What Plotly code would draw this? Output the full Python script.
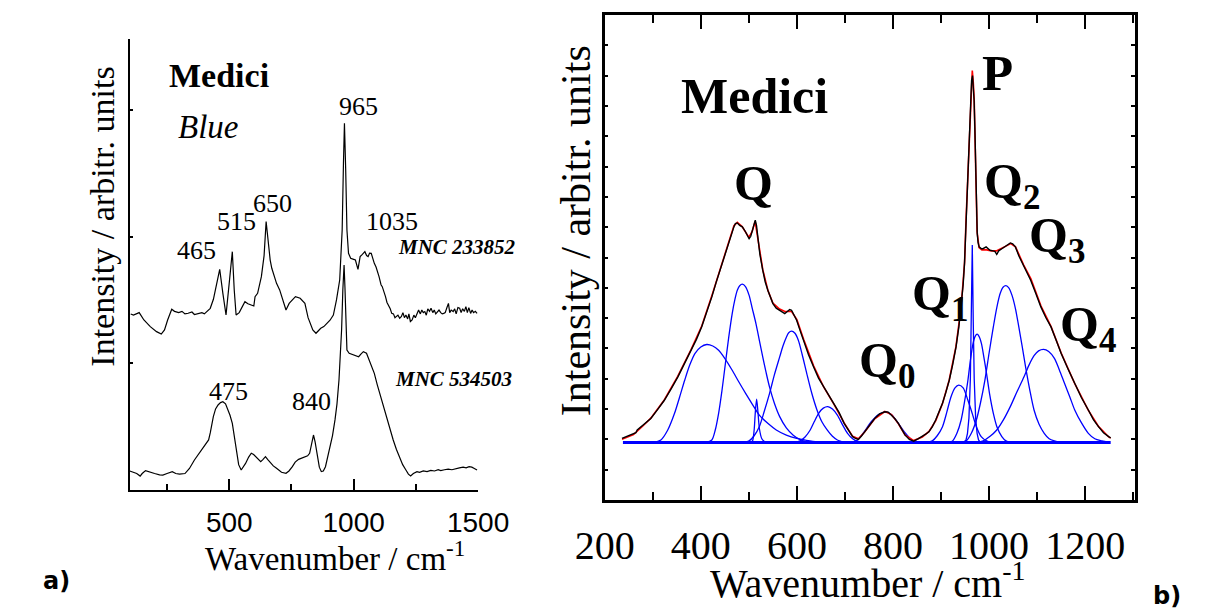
import plotly.graph_objects as go

W, H = 1217, 611

# ---------------- Panel a) data ----------------
top_wn = [103.8, 115, 138, 157, 182.6, 207.8, 226.8, 239.7, 252.3, 268.8, 280, 296.7, 310, 322, 334.8, 350, 360, 372.9,
          390, 400, 411, 423.6, 436.3, 450, 461.6, 474.3, 487, 499.7, 512.3, 520, 527.5, 540, 550.4, 563, 575, 588.5,
          598.7, 603.7, 613.9, 629.1, 640, 648.2, 656, 664.5, 671, 680, 690, 702.6, 715.5, 728, 740.7, 752, 766, 785,
          804, 816.8, 835.8, 848.6, 858, 867.7, 880, 893, 905, 918.4, 931, 943.9, 950, 953.8, 959, 963, 968, 973,
          979.3, 988, 1000, 1007, 1017.4, 1026, 1035, 1045, 1052, 1058, 1064, 1070.7, 1083, 1090, 1102, 1110, 1115,
          1122, 1128, 1134, 1140, 1147, 1153, 1160, 1166, 1172, 1178, 1185, 1192, 1198, 1204, 1210, 1217, 1222, 1228,
          1235, 1242, 1248, 1255, 1261, 1268, 1274, 1280, 1286, 1292, 1298, 1305, 1311, 1318, 1324, 1330, 1337, 1343,
          1350, 1356, 1362, 1368, 1375, 1381, 1386, 1392, 1400, 1406, 1412, 1419, 1426, 1432, 1438, 1445, 1451, 1457,
          1463, 1470, 1476, 1482, 1489, 1496]
top_int = [1.389, 1.38, 1.400, 1.342, 1.289, 1.250, 1.231, 1.263, 1.342, 1.426, 1.41, 1.40, 1.41, 1.39, 1.395, 1.405,
           1.385, 1.389, 1.40, 1.39, 1.407, 1.434, 1.505, 1.62, 1.742, 1.552, 1.381, 1.631, 1.881, 1.579, 1.381, 1.40,
           1.442, 1.486, 1.47, 1.460, 1.452, 1.526, 1.552, 1.684, 1.85, 2.118, 1.95, 1.815, 1.750, 1.70, 1.631, 1.579,
           1.500, 1.421, 1.473, 1.50, 1.526, 1.513, 1.473, 1.36, 1.263, 1.237, 1.26, 1.276, 1.29, 1.316, 1.34, 1.381,
           1.50, 1.657, 1.85, 2.052, 2.578, 2.894, 2.526, 2.052, 1.868, 1.829, 1.82, 1.815, 1.742, 1.842, 1.86, 1.881,
           1.85, 1.842, 1.87, 1.868, 1.789, 1.76, 1.684, 1.62, 1.605, 1.55, 1.526, 1.48, 1.460, 1.43, 1.394, 1.39,
           1.36, 1.368, 1.38, 1.355, 1.37, 1.40, 1.36, 1.381, 1.35, 1.39, 1.33, 1.342, 1.38, 1.36, 1.40, 1.421, 1.39,
           1.42, 1.40, 1.408, 1.38, 1.43, 1.41, 1.434, 1.40, 1.42, 1.39, 1.408, 1.42, 1.40, 1.39, 1.394, 1.40, 1.44,
           1.473, 1.40, 1.42, 1.408, 1.43, 1.39, 1.44, 1.434, 1.40, 1.43, 1.41, 1.447, 1.40, 1.44, 1.394, 1.42, 1.40,
           1.41, 1.394]

bot_wn = [100, 115, 128, 141.9, 150, 163.5, 180, 200, 220, 233, 250, 271, 285, 300, 322, 340, 360, 380, 398, 417,
          423.6, 436, 445, 455, 465, 474.3, 485, 493, 503, 512.3, 525, 537.8, 548, 556, 565.5, 578, 588.5, 598,
          607.5, 617, 626.5, 635, 645.5, 655, 664.5, 677, 690, 710, 728, 740, 753.6, 765, 778.7, 790, 804, 815,
          823, 830, 838.5, 845, 855, 862, 870, 878, 886.7, 895, 905.9, 915, 925, 933, 941, 947, 951.5, 956.5, 959,
          961.5, 965, 969, 973, 982, 995, 1007, 1020, 1030, 1039, 1051.6, 1064, 1073, 1083, 1095, 1108.7, 1121,
          1134, 1147, 1159, 1172, 1185, 1197, 1210, 1220, 1229, 1240, 1254.6, 1265, 1280, 1295, 1310, 1325, 1340,
          1350, 1365, 1380, 1395, 1410, 1425, 1440, 1452, 1464, 1475, 1485, 1496]
bot_int = [0.150, 0.14, 0.13, 0.110, 0.13, 0.153, 0.14, 0.13, 0.12, 0.118, 0.13, 0.145, 0.13, 0.125, 0.13, 0.17,
           0.237, 0.29, 0.342, 0.395, 0.45, 0.579, 0.64, 0.671, 0.69, 0.697, 0.68, 0.645, 0.59, 0.526, 0.342, 0.20,
           0.158, 0.18, 0.210, 0.26, 0.290, 0.28, 0.263, 0.24, 0.224, 0.24, 0.263, 0.24, 0.216, 0.19, 0.171, 0.14,
           0.132, 0.15, 0.184, 0.22, 0.242, 0.25, 0.263, 0.27, 0.290, 0.36, 0.434, 0.38, 0.263, 0.18, 0.145, 0.15,
           0.184, 0.25, 0.342, 0.43, 0.553, 0.68, 0.868, 1.05, 1.263, 1.579, 1.70, 1.776, 1.60, 1.394, 1.105, 1.079,
           1.07, 1.066, 1.052, 1.075, 1.092, 1.079, 1.013, 0.97, 0.921, 0.83, 0.737, 0.645, 0.553, 0.47, 0.395, 0.32,
           0.250, 0.20, 0.158, 0.125, 0.110, 0.13, 0.145, 0.14, 0.15, 0.145, 0.155, 0.15, 0.16, 0.153, 0.16, 0.165,
           0.16, 0.17, 0.175, 0.18, 0.175, 0.184, 0.18, 0.17, 0.158]

a_xticks = [500, 1000, 1500]
a_xminor = [250, 750, 1250]
a_yticks = [1, 2, 3]

# ---------------- Panel b) data ----------------
exp_wn = [236, 250, 260.7, 265, 267.7, 280, 296, 310, 324.2, 338, 352.4, 366, 380.7, 391, 401.8, 412, 423, 432, 440.7,
          450, 458.3, 464, 468.9, 472, 476, 481, 486.5, 493, 500.6, 504, 507.7, 511, 513.4, 516, 518.3, 523, 528.9,
          534, 539.5, 545, 550.1, 557, 564.2, 569, 574.8, 580, 585, 588.9, 594, 599.5, 606, 613.6, 624, 634.8, 645,
          655.9, 666, 677.1, 688, 698.3, 708, 716, 722, 728, 734, 740.6, 750, 761.8, 772, 783, 790, 797.1, 804,
          811.2, 818, 825.3, 834, 843, 852, 860.6, 868, 874.7, 882, 888.8, 896, 903, 910, 917.1, 924, 931.2, 937,
          941.8, 946, 948.8, 952.4, 956, 959.5, 962, 963.5, 965.5, 967, 968.8, 970.5, 972.1, 974, 975.3, 977, 979.3,
          984.1, 987.2, 993.8, 997, 1001.8, 1008, 1012, 1015.9, 1020, 1026.5, 1032, 1038, 1044.1, 1049, 1054.7, 1062,
          1072.4, 1080, 1086.5, 1097, 1107.7, 1118, 1128.8, 1140, 1150, 1164, 1178.2, 1192, 1206.5, 1217, 1227.6,
          1238, 1248.8, 1253]
exp_int = [2.03, 2.12, 2.20, 2.22, 2.31, 2.47, 2.69, 2.98, 3.29, 3.66, 4.06, 4.50, 4.94, 5.30, 5.71, 6.18, 6.70, 7.18,
           7.63, 8.08, 8.51, 8.82, 9.01, 9.12, 9.14, 9.06, 9.01, 8.85, 8.62, 8.70, 8.90, 9.15, 9.23, 9.05, 8.68, 8.10,
           7.58, 7.20, 6.92, 6.68, 6.48, 6.33, 6.26, 6.20, 6.15, 6.22, 6.28, 6.26, 6.12, 5.93, 5.62, 5.27, 4.80, 4.39,
           4.02, 3.73, 3.45, 3.19, 2.88, 2.53, 2.28, 2.09, 2.03, 2.00, 2.10, 2.25, 2.45, 2.69, 2.84, 2.91, 2.90, 2.80,
           2.68, 2.53, 2.33, 2.14, 2.00, 1.94, 2.02, 2.09, 2.17, 2.25, 2.42, 2.64, 2.90, 3.19, 3.55, 3.95, 4.45, 5.05,
           5.70, 6.37, 7.10, 7.80, 9.23, 10.8, 12.08, 13.2, 13.84, 14.0, 13.7, 13.18, 12.2, 10.98, 9.8, 8.79, 8.50,
           8.35, 8.29, 8.29, 8.35, 8.30, 8.24, 8.22, 8.20, 8.10, 8.22, 8.29, 8.35, 8.42, 8.48, 8.45, 8.35, 8.05, 7.69,
           7.45, 7.25, 6.82, 6.37, 6.02, 5.71, 5.25, 4.83, 4.33, 3.84, 3.38, 2.97, 2.65, 2.42, 2.22, 2.09, 2.05]

fit_wn = [236, 260, 280, 296, 324, 352, 380, 402, 423, 441, 458, 469, 476, 486, 500, 507, 513, 518, 529, 540, 550, 564,
          575, 589, 600, 614, 635, 656, 677, 698, 716, 728, 741, 762, 783, 797, 811, 825, 843, 861, 875, 889, 903, 917,
          931, 942, 949, 952, 956, 960, 963, 965, 967, 969, 972, 975, 979, 985, 995, 1005, 1016, 1027, 1038, 1045,
          1055, 1072, 1087, 1108, 1129, 1150, 1178, 1206, 1228, 1249, 1253]
fit_int = [2.00, 2.16, 2.45, 2.70, 3.30, 4.08, 4.97, 5.74, 6.74, 7.66, 8.55, 9.05, 9.16, 9.02, 8.66, 8.86, 9.20, 8.72,
           7.60, 6.90, 6.50, 6.30, 6.22, 6.22, 5.95, 5.30, 4.42, 3.72, 3.16, 2.55, 2.10, 2.02, 2.24, 2.68, 2.92, 2.82,
           2.52, 2.15, 1.96, 2.08, 2.26, 2.62, 3.18, 3.96, 5.06, 6.40, 7.85, 9.25, 10.9, 12.3, 13.9, 14.17, 13.8, 13.2,
           11.0, 8.85, 8.33, 8.25, 8.25, 8.22, 8.22, 8.30, 8.40, 8.46, 8.35, 7.75, 7.30, 6.40, 5.72, 4.85, 3.85, 2.97,
           2.42, 2.08, 2.04]

c1_wn = [300, 317, 331, 345.4, 356, 366.5, 377, 387.7, 400, 412.4, 425, 437.1, 451, 465.4, 479, 493.6, 508, 521.8, 540,
         557.1, 578, 599.5, 620, 641.8, 665]
c1_int = [1.90, 1.98, 2.30, 2.86, 3.40, 3.95, 4.45, 4.83, 5.05, 5.13, 5.08, 4.94, 4.65, 4.28, 3.90, 3.51, 3.14, 2.80,
          2.52, 2.31, 2.14, 2.03, 1.97, 1.92, 1.90]
c2_wn = [410, 423, 430, 437.1, 444, 451.2, 458, 465.4, 471, 476, 481, 486.5, 493, 500.6, 507, 514.8, 522, 528.9, 536,
         543, 553, 564.2, 578, 592.4, 606, 620.6, 635]
c2_int = [1.90, 1.98, 2.30, 2.86, 3.60, 4.50, 5.35, 6.15, 6.62, 6.92, 7.07, 7.12, 7.04, 6.75, 6.33, 5.82, 5.26, 4.72,
          4.20, 3.73, 3.20, 2.75, 2.38, 2.14, 2.00, 1.92, 1.90]
c3_wn = [504, 507.7, 511, 513.5, 516.2, 519, 522, 527, 532.4, 536]
c3_int = [1.90, 1.95, 2.30, 2.90, 3.33, 2.90, 2.35, 2.02, 1.93, 1.90]
c4_wn = [490, 500.6, 511, 521.8, 532, 543, 553, 564.2, 571, 578.3, 583, 588.9, 596, 603, 611, 620.6, 631, 641.8, 652,
         663, 674, 684.2, 700]
c4_int = [1.90, 1.95, 2.12, 2.42, 2.92, 3.51, 4.12, 4.72, 5.08, 5.38, 5.52, 5.57, 5.50, 5.27, 4.80, 4.17, 3.52, 2.97,
          2.58, 2.31, 2.10, 1.98, 1.90]
c5_wn = [595, 606.5, 617, 627.7, 636, 645.3, 655, 664.4, 674, 684.2, 695, 705.4, 716, 726.5, 740]
c5_int = [1.90, 1.95, 2.08, 2.31, 2.58, 2.86, 3.03, 3.08, 3.00, 2.80, 2.48, 2.20, 2.02, 1.93, 1.90]
c6_wn = [715, 726.5, 740, 754.7, 770, 785.1, 798, 811.2, 825, 839.4, 852]
c6_int = [1.90, 1.98, 2.25, 2.58, 2.82, 2.91, 2.80, 2.53, 2.22, 1.98, 1.90]
c7_wn = [870, 881.8, 892, 903, 912, 920.6, 929, 936.8, 946, 955.9, 965, 973.5, 984, 994.7, 1005]
c7_int = [1.90, 1.95, 2.12, 2.42, 2.90, 3.40, 3.70, 3.79, 3.70, 3.29, 2.85, 2.42, 2.08, 1.95, 1.90]
c8_wn = [948, 952, 955, 958, 961, 963, 965, 967, 969, 972, 975, 978, 982]
c8_int = [1.90, 1.98, 2.20, 2.70, 4.00, 5.90, 8.41, 5.90, 4.00, 2.70, 2.20, 1.98, 1.90]
c9_wn = [915, 924, 933, 941.8, 949, 955.9, 961, 966.5, 971, 975, 979, 984.1, 989, 994.7, 1001, 1008.8, 1017, 1026.5,
         1035, 1045]
c9_int = [1.90, 1.95, 2.20, 2.64, 3.25, 3.95, 4.60, 5.16, 5.40, 5.47, 5.40, 5.16, 4.72, 4.17, 3.50, 2.86, 2.38, 2.09,
          1.95, 1.90]
c10_wn = [940, 952.4, 963, 973.5, 982, 991.2, 1000, 1008.8, 1016, 1023, 1029, 1035, 1041, 1047.7, 1055, 1061.8, 1069,
          1075.9, 1085, 1093.5, 1104, 1114.7, 1125, 1135.9, 1150]
c10_int = [1.90, 1.95, 2.20, 2.64, 3.20, 3.95, 4.85, 5.71, 6.35, 6.81, 7.02, 7.07, 7.00, 6.75, 6.30, 5.71, 5.05, 4.39,
           3.60, 2.97, 2.50, 2.20, 2.02, 1.95, 1.90]
c11_wn = [975, 987.7, 1002, 1015.9, 1030, 1044.1, 1058, 1072.4, 1083, 1093.5, 1103, 1113.3, 1124, 1135.9, 1146, 1157.1,
          1168, 1178.2, 1192, 1206.5, 1220, 1234.7, 1250]
c11_int = [1.90, 1.95, 2.10, 2.31, 2.65, 3.08, 3.57, 4.06, 4.45, 4.76, 4.92, 4.97, 4.90, 4.67, 4.30, 3.84, 3.40, 2.97,
           2.55, 2.20, 2.02, 1.95, 1.90]
base_wn = [238, 1253]
base_int = [1.9, 1.9]

b_xticks = [200, 400, 600, 800, 1000, 1200]
b_xminor = [300, 500, 700, 900, 1100, 1300]
b_yticks = list(range(1, 16))

# ---------------- figure ----------------
def fx(p):
    return p / W


def fy(p):
    return 1 - p / H


fig = go.Figure()

for xs, ys in [(top_wn, top_int), (bot_wn, bot_int)]:
    fig.add_trace(go.Scatter(x=xs, y=ys, mode="lines", line=dict(color="black", width=1.2),
                             xaxis="x", yaxis="y", showlegend=False, hoverinfo="skip"))

comps = [(c1_wn, c1_int), (c2_wn, c2_int), (c3_wn, c3_int), (c4_wn, c4_int), (c5_wn, c5_int),
         (c6_wn, c6_int), (c7_wn, c7_int), (c9_wn, c9_int), (c10_wn, c10_int), (c11_wn, c11_int)]
for xs, ys in comps:
    fig.add_trace(go.Scatter(x=xs, y=ys, mode="lines", line=dict(color="#0000FF", width=1.3, shape="spline", smoothing=0.8),
                             xaxis="x2", yaxis="y2", showlegend=False, hoverinfo="skip"))
fig.add_trace(go.Scatter(x=c8_wn, y=c8_int, mode="lines", line=dict(color="#0000FF", width=1.3),
                         xaxis="x2", yaxis="y2", showlegend=False, hoverinfo="skip"))
fig.add_trace(go.Scatter(x=base_wn, y=base_int, mode="lines", line=dict(color="#0000FF", width=3),
                         xaxis="x2", yaxis="y2", showlegend=False, hoverinfo="skip"))
fig.add_trace(go.Scatter(x=fit_wn, y=fit_int, mode="lines", line=dict(color="#FF0000", width=1.6),
                         xaxis="x2", yaxis="y2", showlegend=False, hoverinfo="skip"))
fig.add_trace(go.Scatter(x=exp_wn, y=exp_int, mode="lines", line=dict(color="black", width=1.4),
                         xaxis="x2", yaxis="y2", showlegend=False, hoverinfo="skip"))

serif = "Liberation Serif"
sans = "Liberation Sans"
boldsans = "DejaVu Sans"

fig.update_layout(
    width=W, height=H, margin=dict(l=0, r=0, t=0, b=0),
    paper_bgcolor="white", plot_bgcolor="white", showlegend=False,
    font=dict(family=serif, color="black"),
    xaxis=dict(domain=[fx(105), fx(471.7)], anchor="y", range=[100, 1500], showgrid=False, zeroline=False,
               showline=True, linecolor="black", linewidth=2, ticks="inside", ticklen=11, tickwidth=1.5,
               tickcolor="black", tickvals=a_xticks, ticktext=[str(v) for v in a_xticks],
               tickfont=dict(family=sans, size=28, color="black"), ticklabelstandoff=6,
               minor=dict(tickvals=a_xminor, ticks="inside", ticklen=6, tickwidth=1.5, tickcolor="black")),
    yaxis=dict(domain=[fy(490), fy(38.5)], anchor="x", range=[0, 3.5635], showgrid=False, zeroline=False,
               showline=True, linecolor="black", linewidth=2, ticks="inside", ticklen=3, tickwidth=1.5,
               tickcolor="black", tickvals=a_yticks, showticklabels=False),
    xaxis2=dict(domain=[fx(605), fx(1163)], anchor="y2", range=[200, 1303], showgrid=False, zeroline=False,
                showline=True, mirror="ticks", linecolor="black", linewidth=2.5, ticks="inside", ticklen=14,
                tickwidth=2, tickcolor="black", tickvals=b_xticks, ticktext=[str(v) for v in b_xticks],
                tickfont=dict(family=serif, size=40, color="black"), ticklabelstandoff=8,
                minor=dict(tickvals=b_xminor, ticks="inside", ticklen=8, tickwidth=2, tickcolor="black")),
    yaxis2=dict(domain=[fy(500), fy(15)], anchor="x2", range=[0, 16], showgrid=False, zeroline=False,
                showline=True, mirror="ticks", linecolor="black", linewidth=2.5, ticks="inside", ticklen=4,
                tickwidth=2, tickcolor="black", tickvals=b_yticks, showticklabels=False),
)

ann = []


def add(text, px, py, size, family=serif, angle=0, color="black"):
    ann.append(dict(text=text, x=fx(px), y=fy(py), xref="paper", yref="paper", showarrow=False,
                    xanchor="center", yanchor="middle", textangle=angle,
                    font=dict(family=family, size=size, color=color)))


# panel a texts
add("<b>Medici</b>", 199, 75.5, 34)
add("<i>Blue</i>", 187.5, 126.5, 33)
add("465", 175, 250, 26)
add("515", 217.5, 221.5, 26)
add("650", 255, 203.5, 26)
add("965", 346, 106.7, 26)
add("1035", 381, 221.7, 26)
add("475", 209.3, 391, 26)
add("840", 296, 401, 26)
add("<b><i>MNC 233852</i></b>", 449.7, 246.5, 21)
add("<b><i>MNC 534503</i></b>", 446, 379, 21)
add("Wavenumber / cm<sup>-1</sup>", 321.5, 556, 33)
add("Intensity / arbitr. units", 76, 216.5, 34, angle=-90)
add("<b>a)</b>", 28, 581, 24, family=boldsans)

# panel b texts
add("<b>Medici</b>", 763, 96, 50)
add("<b>Q</b>", 762, 183, 50)
add("<b>P</b>", 1019, 73, 51)
add("<b>Q<sub>2</sub></b>", 1034, 185, 50)
add("<b>Q<sub>3</sub></b>", 1081, 239, 50)
add("<b>Q<sub>1</sub></b>", 957.5, 297, 50)
add("<b>Q<sub>4</sub></b>", 1113.5, 328, 50)
add("<b>Q<sub>0</sub></b>", 902.5, 364, 50)
add("Wavenumber / cm<sup>-1</sup>", 882, 580, 40)
add("Intensity / arbitr. units", 575, 231, 42, angle=-90)
add("<b>b)</b>", 1197, 596, 24, family=boldsans)

fig.update_layout(annotations=ann)
fig.write_html("out.html")
